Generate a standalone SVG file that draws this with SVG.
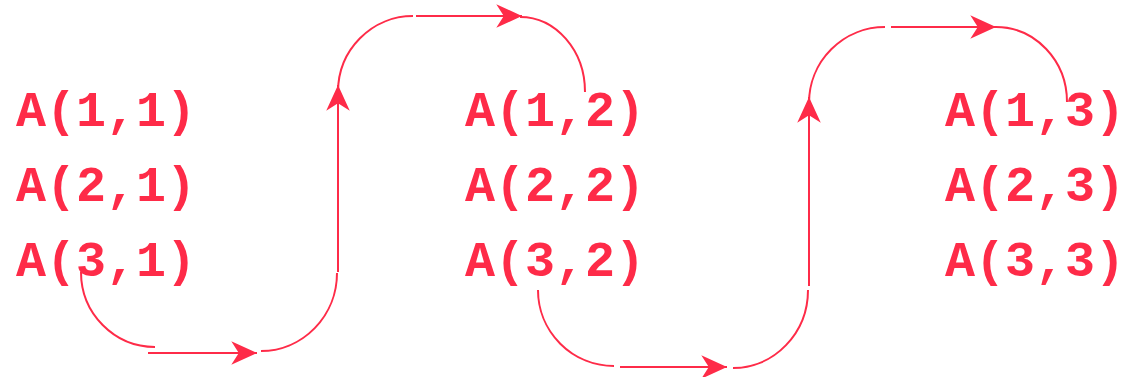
<svg xmlns="http://www.w3.org/2000/svg" width="1130" height="377" viewBox="0 0 1130 377">
<style>
.t{font-family:"Liberation Mono","Courier New",monospace;font-weight:bold;font-size:50px;fill:#fe2b48}
.c{fill:none;stroke:#fe2b48;stroke-width:2}
</style>
<defs>
<marker id="ah" markerUnits="userSpaceOnUse" markerWidth="30" markerHeight="30" viewBox="-26 -13 28 26" refX="0" refY="0" orient="auto">
<path d="M0,0 L-24,-11 L-17,0 L-24,11 Z" fill="#fe2b48"/>
</marker>
</defs>
<rect width="1130" height="377" fill="#fff"/>
<g id="col1">
<g id="a11"><text class="t" x="16" y="126">A(1,1)</text></g>
<g id="a21"><text class="t" x="16" y="201">A(2,1)</text></g>
<g id="a31"><text class="t" x="16" y="276">A(3,1)</text></g>
</g>
<g id="col2">
<g id="a12"><text class="t" x="465" y="126">A(1,2)</text></g>
<g id="a22"><text class="t" x="465" y="201">A(2,2)</text></g>
<g id="a32"><text class="t" x="465" y="276">A(3,2)</text></g>
</g>
<g id="col3">
<g id="a13"><text class="t" x="945" y="126">A(1,3)</text></g>
<g id="a23"><text class="t" x="945" y="201">A(2,3)</text></g>
<g id="a33"><text class="t" x="945" y="276">A(3,3)</text></g>
</g>
<g id="connectors">
<path class="c" d="M81,272 A74,75 0 0 0 155,347"/>
<path class="c" d="M148,353 L257,353" marker-end="url(#ah)"/>
<path class="c" d="M261,351 A76,78 0 0 0 337,273"/>
<path class="c" d="M338,272 L338,85" marker-end="url(#ah)"/>
<path class="c" d="M338,92 A75,76 0 0 1 413,16"/>
<path class="c" d="M416,16 L522,16" marker-end="url(#ah)"/>
<path class="c" d="M520,17 A65,75 0 0 1 585,92"/>
<path class="c" d="M538,290 A76,76 0 0 0 614,366"/>
<path class="c" d="M620,367 L727,367" marker-end="url(#ah)"/>
<path class="c" d="M733,368 A75,78 0 0 0 808,290"/>
<path class="c" d="M809,286 L809,97" marker-end="url(#ah)"/>
<path class="c" d="M809,103 A76,76 0 0 1 885,27"/>
<path class="c" d="M891,27 L996,27" marker-end="url(#ah)"/>
<path class="c" d="M996,27 A71,75 0 0 1 1067,102"/>
</g>
</svg>
